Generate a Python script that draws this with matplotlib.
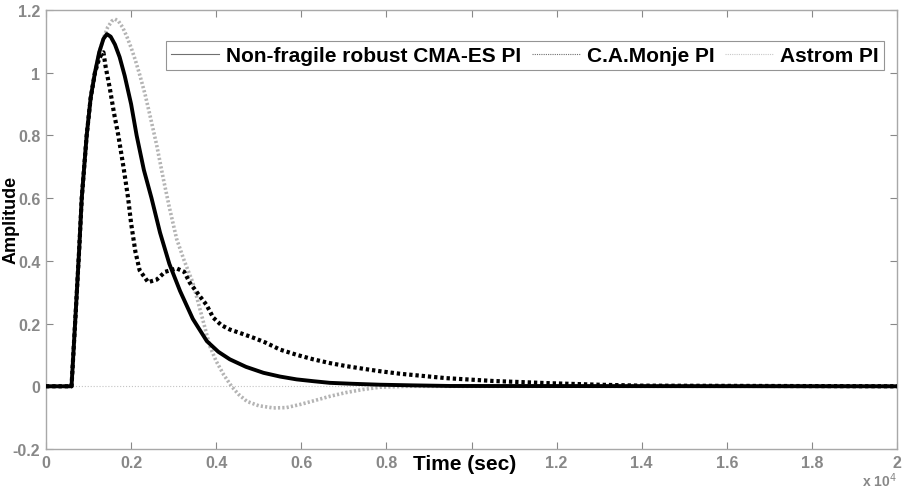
import numpy as np
import matplotlib.pyplot as plt
from matplotlib.lines import Line2D

plt.rcParams['font.family'] = ['Liberation Sans', 'DejaVu Sans']

# time in units of 1e4 s
t_cma = [0, 0.06, 0.07, 0.078, 0.084, 0.0956, 0.105, 0.115, 0.125, 0.135, 0.143, 0.152,
         0.162, 0.173, 0.185, 0.2, 0.213, 0.23, 0.248, 0.268, 0.29, 0.315, 0.345,
         0.378, 0.405, 0.432, 0.47, 0.511, 0.55, 0.589, 0.63, 0.667, 0.72, 0.785,
         0.86, 0.95, 2.0]
a_cma = [0, 0, 0.24, 0.437, 0.6, 0.8, 0.92, 1.0, 1.065, 1.108, 1.123, 1.115,
         1.09, 1.05, 0.99, 0.9, 0.8, 0.69, 0.6, 0.49, 0.39, 0.304, 0.215,
         0.144, 0.11, 0.086, 0.062, 0.043, 0.031, 0.022, 0.016, 0.011, 0.008, 0.005,
         0.003, 0.001, 0]

t_monje = [0, 0.06, 0.07, 0.078, 0.084, 0.0956, 0.105, 0.115, 0.125, 0.131, 0.135, 0.14,
           0.15, 0.16, 0.17, 0.182, 0.193, 0.2, 0.21, 0.22, 0.24, 0.26, 0.28, 0.307,
           0.325, 0.338, 0.36, 0.377, 0.393, 0.412, 0.432, 0.46, 0.487, 0.515, 0.55,
           0.59, 0.628, 0.667, 0.707, 0.745, 0.785, 0.832, 0.94, 1.05, 1.18, 1.3,
           1.4, 2.0]
a_monje = [0, 0, 0.24, 0.437, 0.6, 0.8, 0.92, 1.0, 1.045, 1.06, 1.065, 1.02,
           0.95, 0.87, 0.8, 0.7, 0.6, 0.52, 0.43, 0.37, 0.332, 0.34, 0.365, 0.376,
           0.365, 0.33, 0.29, 0.26, 0.219, 0.195, 0.181, 0.168, 0.155, 0.14, 0.117,
           0.1, 0.086, 0.074, 0.064, 0.056, 0.048, 0.04, 0.026, 0.017, 0.01, 0.005,
           0.002, 0]

t_astrom = [0, 0.06, 0.07, 0.078, 0.084, 0.0956, 0.105, 0.115, 0.125, 0.135, 0.145,
            0.155, 0.162, 0.17, 0.18, 0.19, 0.2, 0.21, 0.221, 0.233, 0.245, 0.26,
            0.276, 0.29, 0.307, 0.325, 0.345, 0.365, 0.385, 0.4, 0.418, 0.436, 0.452,
            0.472, 0.5, 0.534, 0.565, 0.597, 0.63, 0.667, 0.705, 0.746, 0.785, 0.85, 2.0]
a_astrom = [0, 0, 0.24, 0.437, 0.6, 0.8, 0.92, 1.0, 1.065, 1.11, 1.145,
            1.165, 1.171, 1.165, 1.145, 1.115, 1.08, 1.04, 0.99, 0.93, 0.86, 0.77,
            0.66, 0.57, 0.47, 0.4, 0.331, 0.23, 0.128, 0.08, 0.036, 0.0, -0.025,
            -0.048, -0.062, -0.069, -0.068, -0.058, -0.046, -0.032, -0.02, -0.01, -0.003, 0, 0]

labels = ['Non-fragile robust CMA-ES PI', 'C.A.Monje PI', 'Astrom PI']
xticks = [0, 0.2, 0.4, 0.6, 0.8, 1.0, 1.2, 1.4, 1.6, 1.8, 2.0]
xticklabels = ['0', '0.2', '0.4', '0.6', '0.8', '', '1.2', '1.4', '1.6', '1.8', '2']
yticks = [-0.2, 0, 0.2, 0.4, 0.6, 0.8, 1.0, 1.2]
yticklabels = ['-0.2', '0', '0.2', '0.4', '0.6', '0.8', '1', '1.2']

grey = '#888888'

fig = plt.figure(figsize=(9.05, 4.89), dpi=100)
ax = fig.add_axes([46 / 905, 1 - 450 / 489, 851 / 905, 439 / 489])

ax.axhline(0, color='#c4c4c4', lw=0.8, ls=':', zorder=1)
ax.plot(t_astrom, a_astrom, color='#b4b4b4', lw=2.6, ls=(0, (0.6, 0.6)), zorder=2)
ax.plot(t_monje, a_monje, color='black', lw=3.0, ls=(0, (0.8, 0.7)), zorder=3)
ax.plot(t_cma, a_cma, color='black', lw=2.8, zorder=4)

ax.set_xlim(0, 2)
ax.set_ylim(-0.2, 1.2)
ax.set_xticks(xticks)
ax.set_xticklabels(xticklabels)
ax.set_yticks(yticks)
ax.set_yticklabels(yticklabels)
ax.tick_params(direction='in', length=5, width=0.8, color=grey, labelcolor=grey,
               labelsize=11.5, top=True, right=True, pad=4)
for lab in ax.get_xticklabels() + ax.get_yticklabels():
    lab.set_fontweight('bold')
for s in ax.spines.values():
    s.set_color('#a8a8a8')
    s.set_linewidth(1.0)

ax.set_xlabel('Time (sec)', fontsize=15, fontweight='bold')
ax.xaxis.set_label_coords((465 - 46) / 851, -(465 - 450) / 439)
ax.xaxis.label.set_va('center')
ax.set_ylabel('Amplitude', fontsize=13, fontweight='bold')
ax.yaxis.set_label_coords(-(46 - 11) / 851, (450 - 220) / 439)
ax.yaxis.label.set_va('center')
fig.text(897 / 905, 1 - 481 / 489, r'x 10$^4$', color=grey, fontsize=10,
         fontweight='bold', ha='right', va='center')

handles = [Line2D([], [], color='#707070', lw=0.8),
           Line2D([], [], color='#707070', lw=0.8, ls=(0, (1, 1))),
           Line2D([], [], color='#c8c8c8', lw=0.8, ls=(0, (1, 1)))]
leg = ax.legend(handles, labels, ncol=3, loc='upper right',
                bbox_to_anchor=(884 / 905, 1 - 42 / 489), bbox_transform=fig.transFigure,
                prop={'weight': 'bold', 'size': 15}, frameon=True,
                fancybox=False, edgecolor='#7a7a7a', handlelength=2.3, handletextpad=0.35,
                columnspacing=0.5, borderpad=0.25, borderaxespad=0)
leg.get_frame().set_linewidth(0.8)

fig.savefig('out.png', dpi=100)
